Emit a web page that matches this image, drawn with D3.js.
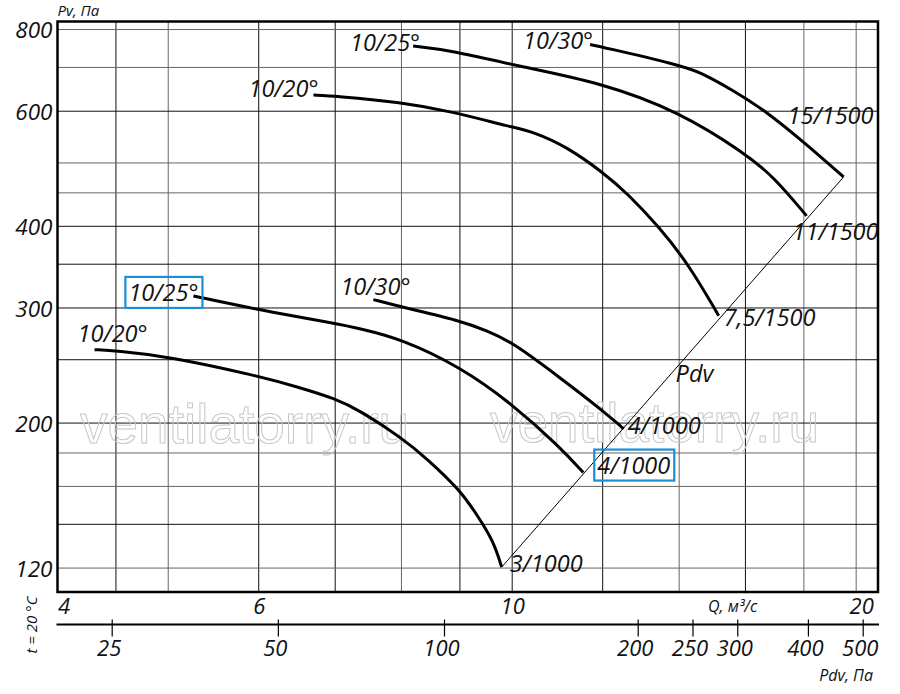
<!DOCTYPE html>
<html>
<head>
<meta charset="utf-8">
<script src="https://cdn.jsdelivr.net/npm/d3@7"></script>
<style>
  body { margin: 0; background: #fff; }
  svg text { font-family: "Open Sans", "Noto Sans", sans-serif; font-style: italic; fill: #111; }
</style>
</head>
<body>
<div id="chart"></div>
<script>
// axis values
var qTicks = [4, 6, 10, 20];
var qGrid = [4.5, 5, 6, 7, 8, 9, 10, 12, 14, 16, 18, 20];
var pTicks = [120, 200, 300, 400, 600, 800];
var pGrid = [120, 140, 160, 180, 200, 250, 300, 350, 400, 450, 500, 600, 700, 800];
var pdvTicks = [25, 50, 100, 200, 250, 300, 400, 500];

// fan curves, [Q m3/s, Pv Pa]
var curve1000_20 = [[4.31, 259], [4.5, 258], [5, 253], [6, 236], [6.5, 227], [7, 218], [7.36, 209], [8, 190], [8.42, 176.5], [9, 158], [9.31, 145], [9.63, 132], [9.79, 120.4]];
var curve1000_25 = [[5.26, 313], [6, 298], [7, 284], [7.36, 279], [8, 269], [9, 244], [10, 214], [11, 184], [11.54, 168]];
var curve1000_30 = [[7.56, 309], [8, 301], [9, 287], [9.5, 277], [10, 266], [11, 235], [12, 209], [12.52, 196]];
var curve1500_20 = [[6.7, 635], [7, 633], [8, 619], [8.83, 600], [10, 567], [10.44, 558], [11.17, 529], [12, 484], [12.6, 450], [13.43, 400], [14.27, 350], [15.16, 292]];
var curve1500_25 = [[8.19, 755], [8.83, 744], [10, 706], [12, 663], [14, 599], [16, 517], [16.94, 476], [18.1, 415]];
var curve1500_30 = [[11.7, 759], [12, 752], [14, 706], [14.6, 689], [15.6, 646], [16.7, 599], [18, 538], [19.5, 476]];
var pdvLine = [[9.79, 120.4], [19.5, 476]];

var angleLabels = ["10/20°", "10/25°", "10/30°", "10/20°", "10/25°", "10/30°"];
var speedLabels = ["3/1000", "4/1000", "4/1000", "7,5/1500", "11/1500", "15/1500"];
var curves = [curve1000_20, curve1000_25, curve1000_30, curve1500_20, curve1500_25, curve1500_30];

// label offsets from curve start / end (px)
var angleOffset = [[-17, -8], [-65, 5], [-33, -5], [-65, 2], [-63, 5], [-67, 5]];
var speedOffset = [[8, 5], [14, 1], [4, 5], [5, 10], [-14, 24], [-56, -53]];
var boxed = [1]; // lower 10/25 highlighted in blue

var margin = {top: 21.5, right: 22, bottom: 102, left: 57.5},
    width = 900 - margin.left - margin.right,
    height = 694 - margin.top - margin.bottom;

var x = d3.scaleLog().domain([4, 20.9]).range([0, width]);
var y = d3.scaleLog().domain([110.3, 823]).range([height, 0]);
// the Pdv scale in the drawing is not an exact log scale
var pdv = d3.scaleLog().domain([25, 100, 200, 500]).range([54.2, 386.5, 580.2, 805.2]);

var minorQ = [5, 8, 14, 18, 20],
    minorP = [120, 160, 180, 450, 500, 700, 800];

var svg = d3.select("#chart").append("svg")
    .attr("width", 900)
    .attr("height", 694)
  .append("g")
    .attr("transform", "translate(" + margin.left + "," + margin.top + ")");

// grid
svg.append("g").selectAll("line")
    .data(qGrid)
  .enter().append("line")
    .attr("x1", d => x(d)).attr("x2", d => x(d))
    .attr("y1", 0).attr("y2", height)
    .style("stroke", d => minorQ.indexOf(d) >= 0 ? "#666" : "#111")
    .style("stroke-width", 1);

svg.append("g").selectAll("line")
    .data(pGrid)
  .enter().append("line")
    .attr("x1", 0).attr("x2", width)
    .attr("y1", d => y(d)).attr("y2", d => y(d))
    .style("stroke", d => minorP.indexOf(d) >= 0 ? "#666" : "#111")
    .style("stroke-width", 1);

// watermark
svg.append("g").selectAll("text")
    .data([[22.5, 421.5], [432.5, 420]])
  .enter().append("text")
    .attr("x", d => d[0]).attr("y", d => d[1])
    .style("font-family", "'Liberation Sans', Arial, sans-serif")
    .style("font-style", "normal")
    .style("font-size", "55px")
    .style("fill", "none")
    .style("stroke", "#c8c8c8")
    .style("stroke-width", 1)
    .text("ventilatorry.ru");

// frame
svg.append("rect")
    .attr("width", width).attr("height", height)
    .style("fill", "none").style("stroke", "#000").style("stroke-width", 2.5);

// axes
var yAxis = svg.append("g").call(d3.axisLeft(y).tickValues(pTicks).tickSize(0).tickFormat(d3.format("d")));
yAxis.select(".domain").remove();
yAxis.selectAll("text")
    .attr("x", -5).attr("dy", "0.36em")
    .style("font-size", "22.5px");

var xAxis = svg.append("g")
    .attr("transform", "translate(0," + height + ")")
    .call(d3.axisBottom(x).tickValues(qTicks).tickSize(0).tickFormat(d3.format("d")));
xAxis.select(".domain").remove();
xAxis.selectAll("text")
    .attr("y", 22).attr("dy", null)
    .attr("x", (d, i) => i == qTicks.length - 1 ? 5 : 0)
    .style("text-anchor", (d, i) => i == 0 ? "start" : "middle")
    .style("font-size", "22px");

var pdvAxis = svg.append("g")
    .attr("transform", "translate(0," + (height + 32.5) + ")")
    .call(d3.axisBottom(pdv).tickValues(pdvTicks).tickSize(12).tickFormat(d3.format("d")));
pdvAxis.select(".domain").remove();
pdvAxis.append("line")
    .attr("x1", -1).attr("x2", width + 1)
    .style("stroke", "#000").style("stroke-width", 2);
pdvAxis.selectAll(".tick line")
    .attr("y1", -5).style("stroke", "#000").style("stroke-width", 1.2);
pdvAxis.selectAll(".tick text")
    .attr("y", 31.5).attr("dy", null)
    .attr("x", -3)
    .style("font-size", "22px");

// axis titles
svg.append("text").attr("x", 0).attr("y", -5.5).style("font-size", "15px").text("Pv, Па");
svg.append("text").attr("x", 650.5).attr("y", height + 20).style("font-size", "16px").text("Q, м³/с");
svg.append("text").attr("x", 815.5).attr("y", height + 89).style("text-anchor", "end").style("font-size", "16px").text("Pdv, Па");
svg.append("text")
    .attr("transform", "translate(-26," + (height + 33) + ") rotate(-90)")
    .style("text-anchor", "middle").attr("dy", "0.35em")
    .style("font-size", "15px")
    .text("t = 20 °C");

var line = d3.line()
    .x(d => x(d[0]))
    .y(d => y(d[1]))
    .curve(d3.curveBasis);

// dynamic pressure line
svg.append("path")
    .datum(pdvLine)
    .attr("d", d3.line().x(d => x(d[0])).y(d => y(d[1])))
    .style("fill", "none").style("stroke", "#000").style("stroke-width", 1);
svg.append("text")
    .attr("x", x(13.9)).attr("y", y(231))
    .style("font-size", "23.5px")
    .text("Pdv");

curves.forEach(function(c, i) {
  svg.append("path")
      .datum(c)
      .attr("d", line)
      .style("fill", "none")
      .style("stroke", "#000")
      .style("stroke-width", 3);

  var s = c[0], e = c[c.length - 1];
  var a = svg.append("text")
      .attr("x", x(s[0]) + angleOffset[i][0])
      .attr("y", y(s[1]) + angleOffset[i][1])
      .style("font-size", "23.5px")
      .text(angleLabels[i]);
  var b = svg.append("text")
      .attr("x", x(e[0]) + speedOffset[i][0])
      .attr("y", y(e[1]) + speedOffset[i][1])
      .style("font-size", "23.5px")
      .text(speedLabels[i]);

  if (boxed.indexOf(i) >= 0) {
    [a, b].forEach(function(t) {
      var bb = t.node().getBBox();
      svg.append("rect")
          .attr("x", bb.x - 3).attr("y", bb.y + 1)
          .attr("width", bb.width + 7).attr("height", bb.height - 1)
          .style("fill", "none")
          .style("stroke", "#1a8fd6")
          .style("stroke-width", 2.2);
    });
  }
});
</script>
</body>
</html>
